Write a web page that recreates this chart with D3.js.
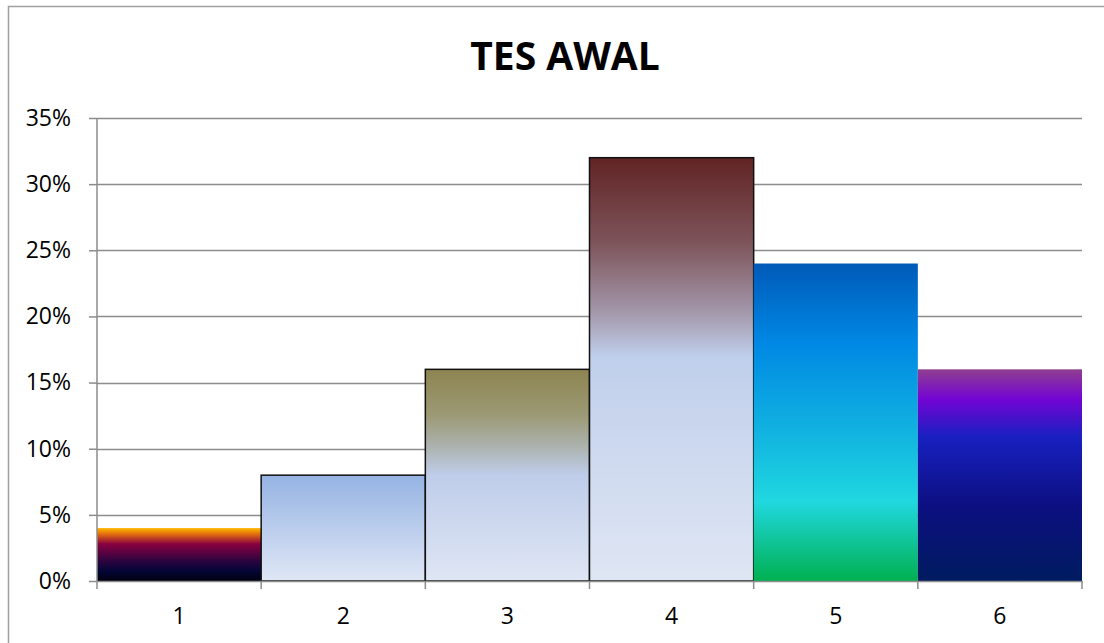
<!DOCTYPE html>
<html>
<head>
<meta charset="utf-8">
<script src="https://cdn.jsdelivr.net/npm/d3@7"></script>
<style>
  body { margin: 0; background: #fff; }
  text { font-family: "Open Sans", "Liberation Sans", sans-serif; }
</style>
</head>
<body>
<div id="chart"></div>
<script>
//data
var categories = ["1", "2", "3", "4", "5", "6"];
var values = [0.04, 0.08, 0.16, 0.32, 0.24, 0.16];
var yTicks = [0, 0.05, 0.10, 0.15, 0.20, 0.25, 0.30, 0.35];
var outlined = [false, true, true, true, false, false];
//gradient stops per bar, top (0) to bottom (1)
var gradients = [
    [[0, "#ffb800"], [0.12, "#e06a10"], [0.3, "#8a0040"], [0.62, "#2c0440"], [0.8, "#050538"], [1, "#000010"]],
    [[0, "#95b3e3"], [1, "#e0e7f5"]],
    [[0, "#8d8450"], [0.22, "#9c9a76"], [0.35, "#aab0a8"], [0.5, "#bfcdea"], [1, "#dfe6f4"]],
    [[0, "#612424"], [0.2, "#7d545a"], [0.36, "#a295a8"], [0.47, "#c0cfeb"], [1, "#dfe6f4"]],
    [[0, "#005ab8"], [0.25, "#0088e4"], [0.55, "#12b6e0"], [0.75, "#20d8e0"], [1, "#00b050"]],
    [[0, "#8f3f8f"], [0.14, "#7404d4"], [0.32, "#1820c0"], [0.65, "#0c0f80"], [1, "#001c60"]]
];

var W = 1104, H = 643;
var margin = {top: 118, right: 22, bottom: 62, left: 97},
    width = W - margin.left - margin.right,
    height = H - margin.top - margin.bottom;

var svg = d3.select("#chart").append("svg")
    .attr("width", W)
    .attr("height", H);

//outer chart border
svg.append("rect")
    .attr("x", 8.5).attr("y", 6.5)
    .attr("width", W).attr("height", H)
    .attr("fill", "none")
    .attr("stroke", "#a0a0a0")
    .attr("stroke-width", 1.5);

//title
svg.append("text")
    .attr("x", 565).attr("y", 70)
    .attr("text-anchor", "middle")
    .attr("font-size", 39)
    .attr("font-weight", "bold")
    .text("TES AWAL");

var defs = svg.append("defs");
gradients.forEach(function(stops, i) {
    var g = defs.append("linearGradient")
        .attr("id", "grad" + i)
        .attr("x1", 0).attr("y1", 0).attr("x2", 0).attr("y2", 1);
    stops.forEach(function(s) {
        g.append("stop").attr("offset", s[0]).attr("stop-color", s[1]);
    });
});

var g = svg.append("g")
    .attr("transform", "translate(" + margin.left + "," + margin.top + ")");

//scales
var x = d3.scaleBand().domain(categories).range([0, width]).padding(0);
var y = d3.scaleLinear().domain([0, 0.35]).range([height, 0]);

//gridlines
g.append("g")
    .selectAll("line")
    .data(yTicks.slice(1))
    .enter().append("line")
        .attr("x1", 0).attr("x2", width)
        .attr("y1", function(d) { return Math.round(y(d)) + 0.5; })
        .attr("y2", function(d) { return Math.round(y(d)) + 0.5; })
        .attr("stroke", "#8c8c8c")
        .attr("stroke-width", 1.5);

//bars
g.selectAll(".bar")
    .data(values)
    .enter().append("rect")
        .attr("class", "bar")
        .attr("x", function(d, i) { return x(categories[i]); })
        .attr("y", function(d) { return y(d); })
        .attr("width", x.bandwidth())
        .attr("height", function(d) { return height - y(d); })
        .attr("fill", function(d, i) { return "url(#grad" + i + ")"; })
        .attr("stroke", function(d, i) { return outlined[i] ? "#111" : "none"; })
        .attr("stroke-width", 1.5);

//y axis
var yAxis = d3.axisLeft(y)
    .tickValues(yTicks)
    .tickSize(8)
    .tickPadding(18)
    .tickFormat(d3.format(".0%"));
var ya = g.append("g").call(yAxis);
ya.select(".domain").attr("stroke", "#8c8c8c").attr("stroke-width", 1.5).attr("d", "M0," + y(0.35) + "V" + height);
ya.selectAll(".tick line").attr("stroke", "#8c8c8c").attr("stroke-width", 1.5);
ya.selectAll("text").attr("font-size", 23).attr("fill", "#000")
    .style("font-family", "'Open Sans', sans-serif");

//x axis
var xa = g.append("g")
    .attr("transform", "translate(0," + height + ")")
    .call(d3.axisBottom(x).tickSize(0).tickPadding(27));
xa.select(".domain").attr("stroke", "#8c8c8c").attr("stroke-width", 1.5);
xa.selectAll("text").attr("font-size", 23).attr("fill", "#000")
    .style("font-family", "'Open Sans', sans-serif");
//x tick marks at category boundaries
xa.append("g").selectAll("line")
    .data(categories.concat([""]))
    .enter().append("line")
        .attr("x1", function(d, i) { return i * x.bandwidth(); })
        .attr("x2", function(d, i) { return i * x.bandwidth(); })
        .attr("y1", 0).attr("y2", 8)
        .attr("stroke", "#8c8c8c")
        .attr("stroke-width", 1.5);
</script>
</body>
</html>
